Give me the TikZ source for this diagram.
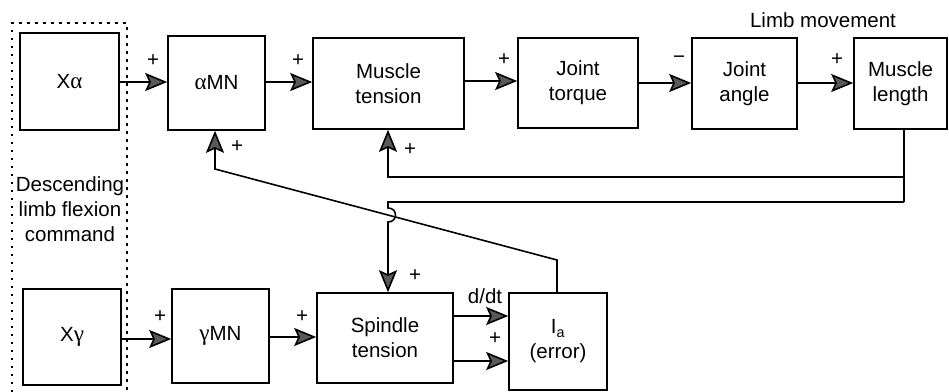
\documentclass[tikz,border=0pt]{standalone}
\usepackage{fontspec}
\setmainfont{Liberation Sans}
\newfontfamily\grk{Liberation Serif}
\newcommand\gk[1]{{\grk\fontsize{23}{25}\selectfont #1}}
\usetikzlibrary{arrows.meta}
\begin{document}
\begin{tikzpicture}[x=1pt,y=-1pt,
  font=\fontsize{20.5}{25}\selectfont,
  blk/.style={draw,line width=1.6pt,rectangle,inner sep=0pt,align=center},
  sig/.style={line width=1.6pt,-{Stealth[length=22pt,width=18pt,inset=4pt,fill=black!65]}},
  wire/.style={line width=1.6pt},
  sgn/.style={inner sep=0pt}]
\useasboundingbox (0,0) rectangle (949,391);
% descending command (dotted frame)
\draw[line width=1.5pt,dash pattern=on 2.5pt off 5.5pt] (12,400) -- (12,23) -- (127,23) -- (127,400);
\node[align=center,inner sep=0pt] (cmd) at (70,209) {Descending\\limb flexion\\command};
% top row
\node[blk,minimum width=99pt,minimum height=97pt] (xa) at (69.5,81.5) {X\gk{α}};
\node[blk,minimum width=97pt,minimum height=94pt] (amn) at (216.5,83) {\gk{α}MN};
\node[blk,minimum width=151pt,minimum height=91pt] (mt) at (388.5,83.5) {Muscle\\tension};
\node[blk,minimum width=120pt,minimum height=90pt] (jt) at (578,83) {Joint\\torque};
\node[blk,minimum width=105pt,minimum height=91pt] (ja) at (744.5,83.5) {Joint\\angle};
\node[blk,minimum width=93pt,minimum height=91pt] (ml) at (900.5,83.5) {Muscle\\length};
\node[sgn] (lm) at (823,20) {Limb movement};
% bottom row
\node[blk,minimum width=98pt,minimum height=96pt] (xg) at (72,337) {X\gk{γ}};
\node[blk,minimum width=97pt,minimum height=94pt] (gmn) at (220.5,336) {\gk{γ}MN};
\node[blk,minimum width=136pt,minimum height=90pt] (st) at (385,338) {Spindle\\tension};
\node[blk,minimum width=98pt,minimum height=97pt] (ia) at (558,341.5) {I\textsubscript{a}\\(error)};
% forward path
\draw[sig] (xa.east |- 0,82) -- (amn.west |- 0,82);
\draw[sig] (amn.east |- 0,82) -- (mt.west |- 0,82);
\draw[sig] (mt.east |- 0,81) -- (jt.west |- 0,81);
\draw[sig] (jt.east |- 0,83) -- (ja.west |- 0,83);
\draw[sig] (ja.east |- 0,83) -- (ml.west |- 0,83);
\draw[sig] (xg.east |- 0,339) -- (gmn.west |- 0,339);
\draw[sig] (gmn.east |- 0,337) -- (st.west |- 0,337);
\draw[sig] (st.east |- 0,316) -- (ia.west |- 0,316);
\draw[sig] (st.east |- 0,361) -- (ia.west |- 0,361);
% muscle length feedback
\coordinate (mlb) at (904,202);
\coordinate (mlm) at (904,177);
\draw[wire] (ml.south -| mlb) -- (mlb);
\draw[sig] (mlm) -- (388,177) -- (mt.south -| 388,0);
\draw[sig] (mlb) -- (388,202) -- (388,208)
  .. controls (398,208) and (398,222) .. (388,222) -- (st.north -| 388,0);
% Ia feedback to alpha motoneurons
\draw[sig] (ia.north -| 557,0) -- (557,260) -- (215,169) -- (amn.south -| 215,0);
% signs
\node[sgn] (p1) at (153,61) {+};
\node[sgn] (p2) at (298,61) {+};
\node[sgn] (p3) at (504,60) {+};
\node[sgn] (p4) at (679,60) {−};
\node[sgn] (p5) at (837,60) {+};
\node[sgn] (p6) at (237,147) {+};
\node[sgn] (p7) at (410,150) {+};
\node[sgn] (p8) at (415,276) {+};
\node[sgn] (p9) at (160,317) {+};
\node[sgn] (p10) at (302,317) {+};
\node[sgn] (ddt) at (485,296) {d/dt};
\node[sgn] (p11) at (495,339) {+};
\end{tikzpicture}
\end{document}
